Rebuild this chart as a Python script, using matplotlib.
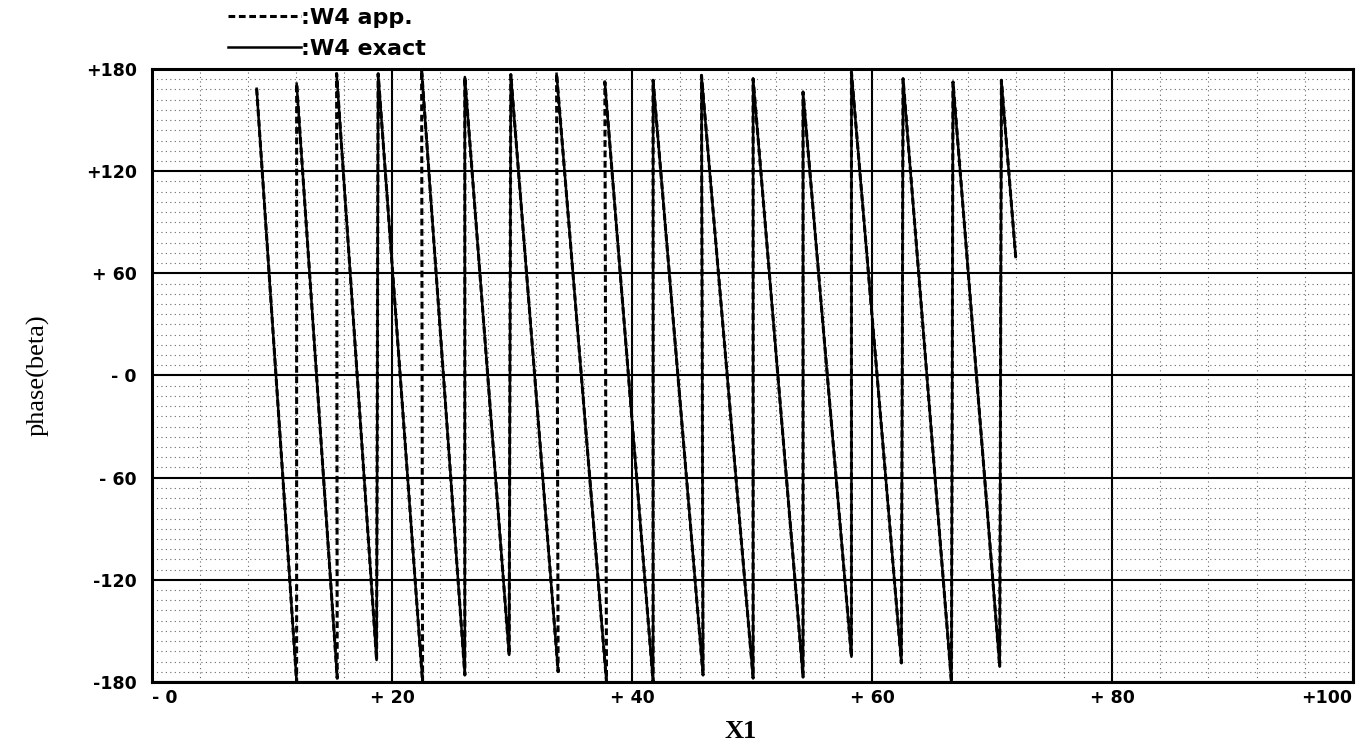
import numpy as np
import matplotlib
matplotlib.use('Agg')
import matplotlib.pyplot as plt
from matplotlib.ticker import MultipleLocator

# phase of W4 along X1, None = no wrap line drawn
exact_x = [8.72, 12.05, None, 12.05, 15.43, None, 15.38, 18.71, 18.84, 22.54, None,
           22.46, 26.06, 26.06, 29.75, 29.89, 33.83, None, 33.70, 37.86, None,
           37.72, 41.74, 41.74, 45.90, 45.77, 50.07, 50.07, 54.23, 54.23, 58.26,
           58.26, 62.42, 62.56, 66.59, 66.72, 70.61, 70.75, 71.94]
exact_phase = [168.4, -180, None, 171.4, -177.7, None, 177.2, -167.1, 177.2, -180, None,
               179.4, -175.9, 175.3, -164.1, 176.7, -173.9, None, 177.2, -180, None,
               172.4, -180, 173.4, -175.9, 176.3, -177.7, 174.3, -177.1, 166.5, -165.2,
               178.2, -168.8, 174.3, -180, 172.4, -171.0, 173.4, 69.6]

app_x = [8.72, 12.05, 12.05, 15.43, 15.38, 18.71, 18.84, 22.54, 22.46, 26.06,
         26.06, 29.75, 29.89, 33.83, 33.70, 37.86, 37.72, 41.74, 41.74, 45.90,
         45.77, 50.07, 50.07, 54.23, 54.23, 58.26, 58.26, 62.42, 62.56, 66.59,
         66.72, 70.61, 70.75, 71.94]
app_phase = [168.4, -180, 171.4, -177.7, 177.2, -167.1, 177.2, -180, 179.4, -175.9,
             175.3, -164.1, 176.7, -173.9, 177.2, -180, 172.4, -180, 173.4, -175.9,
             176.3, -177.7, 174.3, -177.1, 166.5, -165.2, 178.2, -168.8, 174.3, -180,
             172.4, -171.0, 173.4, 69.6]

xticks = [0, 20, 40, 60, 80, 100]
xticklabels = ['- 0', '+ 20', '+ 40', '+ 60', '+ 80', '+100']
yticks = [180, 120, 60, 0, -60, -120, -180]
yticklabels = ['+180', '+120', '+ 60', '- 0', '- 60', '-120', '-180']


def to_float(vals):
    return np.array([np.nan if v is None else v for v in vals], dtype=float)


fig = plt.figure(figsize=(13.69, 7.54), dpi=100)
ax = fig.add_axes([0.111, 0.0955, 0.877, 0.813])

ln_app, = ax.plot(app_x, app_phase, color='black', lw=2.2,
                  linestyle=(0, (2.2, 1.2)), label=':W4 app.', zorder=3)
ln_ex, = ax.plot(to_float(exact_x), to_float(exact_phase), color='black', lw=1.8,
                 label=':W4 exact', zorder=4)

ax.set_xlim(0, 100)
ax.set_ylim(-180, 180)
ax.set_xticks(xticks)
ax.set_xticklabels(xticklabels)
ax.set_yticks(yticks)
ax.set_yticklabels(yticklabels)
ax.xaxis.set_minor_locator(MultipleLocator(4))
ax.yaxis.set_minor_locator(MultipleLocator(6))

# grid: solid major, dotted minor
ax.grid(which='major', color='black', lw=1.5, linestyle='-', zorder=1)
ax.grid(which='minor', color='#666666', lw=0.8, linestyle=(0, (1, 3)), zorder=1)
ax.set_axisbelow(True)

ax.tick_params(which='both', length=0)
ax.tick_params(axis='y', pad=11)
ax.tick_params(axis='x', pad=5)
for t in ax.get_xticklabels() + ax.get_yticklabels():
    t.set_fontweight('bold')
    t.set_fontsize(12.5)
labs = ax.get_xticklabels()
labs[0].set_ha('left')
labs[-1].set_ha('right')

for s in ax.spines.values():
    s.set_linewidth(2.2)

ax.set_xlabel('X1', family='Liberation Serif', fontsize=19, fontweight='bold')
ax.xaxis.set_label_coords(0.49, -0.062)
ax.set_ylabel('phase(beta)', family='Liberation Serif', fontsize=19)
ax.yaxis.set_label_coords(-0.085, 0.5)

fig.legend(handles=[ln_app, ln_ex], loc='upper left', bbox_to_anchor=(0.1665, 0.99),
           frameon=False, borderpad=0, borderaxespad=0, handlelength=3.3,
           handletextpad=0, labelspacing=0.5,
           prop={'family': 'DejaVu Sans', 'weight': 'bold', 'size': 16})

fig.savefig('out.png', dpi=100)
